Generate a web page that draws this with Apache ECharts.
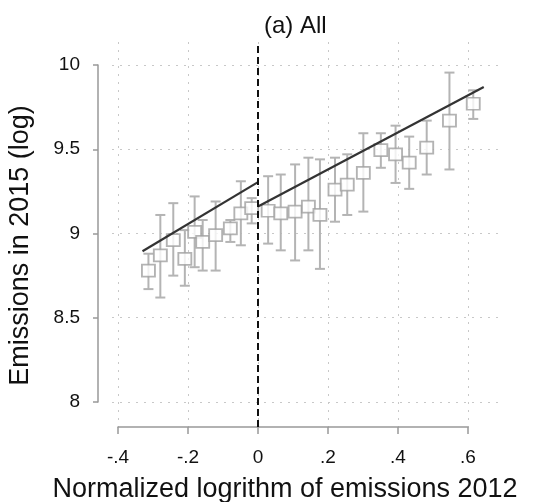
<!DOCTYPE html>
<html>
<head>
<meta charset="utf-8">
<script src="https://cdn.jsdelivr.net/npm/echarts@6/dist/echarts.min.js"></script>
<style>
html, body { margin: 0; padding: 0; background: #fff; }
#chart { width: 535px; height: 502px; }
</style>
</head>
<body>
<div id="chart"></div>
<script>
// binned means of 2015 emissions with 95% intervals
var binX = [-0.313, -0.279, -0.242, -0.209, -0.181, -0.158, -0.121, -0.079, -0.049, -0.018,
	0.029, 0.065, 0.106, 0.144, 0.177, 0.220, 0.255, 0.301, 0.351, 0.393, 0.432, 0.482, 0.547, 0.615];
var binMean = [8.78, 8.87, 8.96, 8.85, 9.01, 8.95, 8.99, 9.03, 9.12, 9.15,
	9.135, 9.12, 9.13, 9.16, 9.11, 9.26, 9.29, 9.36, 9.495, 9.47, 9.42, 9.51, 9.67, 9.77];
var ciLow = [8.67, 8.62, 8.75, 8.69, 8.80, 8.78, 8.78, 8.95, 8.93, 9.06,
	8.94, 8.90, 8.84, 8.90, 8.79, 9.07, 9.11, 9.13, 9.39, 9.30, 9.265, 9.35, 9.38, 9.68];
var ciHigh = [8.88, 9.11, 9.18, 9.02, 9.22, 9.08, 9.19, 9.08, 9.31, 9.21,
	9.34, 9.35, 9.41, 9.45, 9.44, 9.45, 9.47, 9.595, 9.595, 9.64, 9.575, 9.67, 9.955, 9.85];

// linear fits either side of the cutoff
var fitLeftX = [-0.33, 0];
var fitLeftY = [8.895, 9.305];
var fitRightX = [0, 0.645];
var fitRightY = [9.16, 9.87];
var cutoff = 0;

var xTicks = [-0.4, -0.2, 0, 0.2, 0.4, 0.6];
var xTickLabels = ['-.4', '-.2', '0', '.2', '.4', '.6'];
var yTicks = [8, 8.5, 9, 9.5, 10];
var yTickLabels = ['8', '8.5', '9', '9.5', '10'];

var font = 'Liberation Sans, Arial, sans-serif';

function tickLabel(ticks, labels) {
	return function (v) {
		for (var i = 0; i < ticks.length; i++) {
			if (Math.abs(ticks[i] - v) < 1e-6) return labels[i];
		}
		return '';
	};
}

var points = binX.map(function (x, i) { return [x, binMean[i]]; });
var bars = binX.map(function (x, i) { return [x, ciLow[i], ciHigh[i]]; });

var chart = echarts.init(document.getElementById('chart'));

var option = {
	animation: false,
	backgroundColor: '#fff',
	textStyle: { fontFamily: font },
	title: {
		text: '(a) All',
		left: 259,
		top: 9,
		textStyle: { fontFamily: font, fontSize: 24, fontWeight: 'normal', color: '#111' }
	},
	grid: [
		// whole plot region: dotted grid lines, cutoff line and the marks
		// (same scale as grid 1, only wider, so nothing gets clipped)
		{ left: 112, top: 42, right: 35, bottom: 75, outerBoundsMode: 'none' },
		// data region, carries the offset axes
		{ left: 118, top: 65, right: 67, bottom: 100, outerBoundsMode: 'none' }
	],
	xAxis: [
		{
			gridIndex: 0, type: 'value', min: -0.4171, max: 0.6914,
			axisLine: { show: false }, axisTick: { show: false }, axisLabel: { show: false },
			splitLine: { show: true, showMinLine: false, showMaxLine: false,
				lineStyle: { color: '#c8c8c8', width: 1, type: [2, 6] } }
		},
		{
			gridIndex: 1, type: 'value', min: -0.4, max: 0.6, interval: 0.2,
			offset: 25,
			name: 'Normalized logrithm of emissions 2012',
			nameLocation: 'middle', nameGap: 49,
			nameTextStyle: { fontFamily: font, fontSize: 27, color: '#111', padding: [0, 16, 0, 0] },
			axisLine: { show: true, onZero: false, lineStyle: { color: '#999', width: 1.5 } },
			axisTick: { show: true, length: 7, lineStyle: { color: '#999', width: 1.5 } },
			axisLabel: { margin: 21, fontSize: 19, color: '#111', fontFamily: font,
				formatter: tickLabel(xTicks, xTickLabels) },
			splitLine: { show: false }
		}
	],
	yAxis: [
		{
			gridIndex: 0, type: 'value', min: 7.8516, max: 10.1365,
			axisLine: { show: false }, axisTick: { show: false }, axisLabel: { show: false },
			splitLine: { show: true, showMinLine: false, showMaxLine: false,
				lineStyle: { color: '#c8c8c8', width: 1, type: [2, 6] } }
		},
		{
			gridIndex: 1, type: 'value', min: 8, max: 10, interval: 0.5,
			offset: 20,
			name: 'Emissions in 2015 (log)',
			nameLocation: 'middle', nameGap: 64,
			nameTextStyle: { fontFamily: font, fontSize: 27, color: '#111', padding: [0, 24, 0, 0] },
			axisLine: { show: true, onZero: false, lineStyle: { color: '#999', width: 1.5 } },
			axisTick: { show: true, length: 5, lineStyle: { color: '#999', width: 1.5 } },
			axisLabel: { margin: 18, fontSize: 19, color: '#111', fontFamily: font,
				formatter: tickLabel(yTicks, yTickLabels) },
			splitLine: { show: false }
		}
	],
	series: [
		{
			// dashed cutoff line across the whole plot region
			type: 'line', xAxisIndex: 0, yAxisIndex: 0, data: [],
			markLine: {
				silent: true, symbol: 'none', label: { show: false },
				lineStyle: { color: '#111', width: 2, type: [7, 4] },
				data: [{ xAxis: cutoff }]
			}
		},
		{
			type: 'custom', xAxisIndex: 0, yAxisIndex: 0,
			data: bars,
			renderItem: function (params, api) {
				var top = api.coord([api.value(0), api.value(2)]);
				var bot = api.coord([api.value(0), api.value(1)]);
				var cap = 5;
				var style = { stroke: '#b4b4b4', lineWidth: 2 };
				return {
					type: 'group',
					children: [
						{ type: 'line', shape: { x1: top[0], y1: top[1], x2: bot[0], y2: bot[1] }, style: style },
						{ type: 'line', shape: { x1: top[0] - cap, y1: top[1], x2: top[0] + cap, y2: top[1] }, style: style },
						{ type: 'line', shape: { x1: bot[0] - cap, y1: bot[1], x2: bot[0] + cap, y2: bot[1] }, style: style }
					]
				};
			}
		},
		{
			type: 'scatter', xAxisIndex: 0, yAxisIndex: 0,
			symbol: 'rect', symbolSize: [13, 12],
			itemStyle: { color: '#fff', borderColor: '#a0a0a0', borderWidth: 1.8 },
			data: points
		},
		{
			type: 'line', xAxisIndex: 0, yAxisIndex: 0,
			symbol: 'none',
			lineStyle: { color: '#333', width: 2.2 },
			data: fitLeftX.map(function (x, i) { return [x, fitLeftY[i]]; })
		},
		{
			type: 'line', xAxisIndex: 0, yAxisIndex: 0,
			symbol: 'none',
			lineStyle: { color: '#333', width: 2.2 },
			data: fitRightX.map(function (x, i) { return [x, fitRightY[i]]; })
		}
	]
};

chart.setOption(option);
</script>
</body>
</html>
